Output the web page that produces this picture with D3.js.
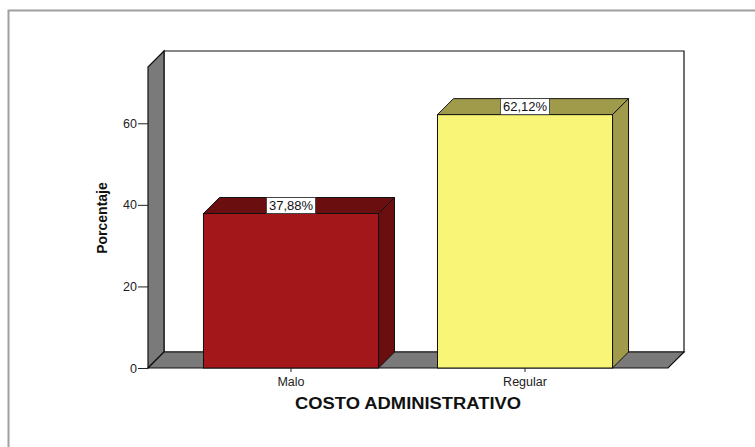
<!DOCTYPE html>
<html>
<head>
<meta charset="utf-8">
<script src="https://cdn.jsdelivr.net/npm/d3@7"></script>
<style>
  html, body { margin: 0; padding: 0; background: #fff; }
  svg { display: block; font-family: "Liberation Sans", Arial, sans-serif; }
</style>
</head>
<body>
<svg id="chart" width="755" height="447"></svg>
<script>
// Data
const categories = ["Malo", "Regular"];
const values = [37.88, 62.12];
const valueLabels = ["37,88%", "62,12%"];
const yTicks = [0, 20, 40, 60];

const frontColors = ["#a3161a", "#f9f576"];
const sideColors = ["#6b0e10", "#a09b4b"];

const svg = d3.select("#chart");

// Outer frame
svg.append("path")
  .attr("d", "M8.5,447 L8.5,10.5 L755,10.5")
  .attr("fill", "none")
  .attr("stroke", "#a0a0a0")
  .attr("stroke-width", 2);

// Front plane geometry and 3D depth offset
const plotLeft = 148, plotRight = 668, plotBottom = 368, plotTop = 67;
const dx = 16, dy = 16;

const y = d3.scaleLinear().domain([0, 73.8]).range([plotBottom, plotTop]);
const x = d3.scaleBand().domain(categories).range([plotLeft, plotRight])
  .paddingInner(0.252).paddingOuter(0.237);

const poly = pts => "M" + pts.map(p => p.join(",")).join("L") + "Z";
const stroke = "#111";

// Back wall
svg.append("path")
  .attr("d", poly([[plotLeft + dx, plotTop - dy], [plotRight + dx, plotTop - dy], [plotRight + dx, plotBottom - dy], [plotLeft + dx, plotBottom - dy]]))
  .attr("fill", "#fff").attr("stroke", stroke).attr("stroke-width", 1.2);

// Left wall
svg.append("path")
  .attr("d", poly([[plotLeft, plotTop], [plotLeft + dx, plotTop - dy], [plotLeft + dx, plotBottom - dy], [plotLeft, plotBottom]]))
  .attr("fill", "#7a7a7a").attr("stroke", stroke).attr("stroke-width", 1.2);

// Floor
svg.append("path")
  .attr("d", poly([[plotLeft, plotBottom], [plotLeft + dx, plotBottom - dy], [plotRight + dx, plotBottom - dy], [plotRight, plotBottom]]))
  .attr("fill", "#7a7a7a").attr("stroke", stroke).attr("stroke-width", 1.2);

// Bars
const bars = svg.append("g");
categories.forEach((c, i) => {
  const x0 = x(c), x1 = x(c) + x.bandwidth();
  const yt = y(values[i]), yb = y(0);
  const g = bars.append("g");
  // top face
  g.append("path")
    .attr("d", poly([[x0, yt], [x0 + dx, yt - dy], [x1 + dx, yt - dy], [x1, yt]]))
    .attr("fill", sideColors[i]).attr("stroke", stroke).attr("stroke-width", 1);
  // side face
  g.append("path")
    .attr("d", poly([[x1, yt], [x1 + dx, yt - dy], [x1 + dx, yb - dy], [x1, yb]]))
    .attr("fill", sideColors[i]).attr("stroke", stroke).attr("stroke-width", 1);
  // front face
  g.append("rect")
    .attr("x", x0).attr("y", yt)
    .attr("width", x.bandwidth()).attr("height", yb - yt)
    .attr("fill", frontColors[i]).attr("stroke", stroke).attr("stroke-width", 1);
});

// Value labels
categories.forEach((c, i) => {
  const cx = x(c) + x.bandwidth() / 2;
  const yt = y(values[i]);
  const g = svg.append("g");
  const t = g.append("text")
    .attr("x", cx).attr("y", yt - 3.5)
    .attr("text-anchor", "middle")
    .attr("font-size", 13)
    .attr("fill", "#111")
    .text(valueLabels[i]);
  const w = t.node().getComputedTextLength() + 5;
  g.insert("rect", "text")
    .attr("x", cx - w / 2).attr("y", yt - 16)
    .attr("width", w).attr("height", 16)
    .attr("fill", "#fff").attr("stroke", "#333").attr("stroke-width", 0.8);
});

// Y axis
const yAxis = svg.append("g")
  .attr("transform", `translate(${plotLeft},0)`)
  .call(d3.axisLeft(y).tickValues(yTicks).tickSize(10).tickPadding(1));
yAxis.select(".domain").remove();
yAxis.selectAll("line").attr("stroke", "#222");
yAxis.selectAll("text").attr("font-size", 12.5).attr("fill", "#222")
  .attr("font-family", "Liberation Sans, Arial, sans-serif");

// X axis
const xAxis = svg.append("g")
  .attr("transform", `translate(0,${plotBottom})`)
  .call(d3.axisBottom(x).tickSize(4).tickPadding(5));
xAxis.select(".domain").remove();
xAxis.selectAll("line").attr("stroke", "#222");
xAxis.selectAll("text").attr("font-size", 12.5).attr("fill", "#222")
  .attr("font-family", "Liberation Sans, Arial, sans-serif");

// Axis titles
svg.append("text")
  .attr("x", 408).attr("y", 409)
  .attr("text-anchor", "middle")
  .attr("font-size", 16).attr("font-weight", "bold")
  .attr("textLength", 226).attr("lengthAdjust", "spacingAndGlyphs")
  .attr("fill", "#111")
  .text("COSTO ADMINISTRATIVO");

svg.append("text")
  .attr("transform", "translate(107,218) rotate(-90)")
  .attr("text-anchor", "middle")
  .attr("font-size", 14).attr("font-weight", "bold")
  .attr("fill", "#111")
  .text("Porcentaje");
</script>
</body>
</html>
